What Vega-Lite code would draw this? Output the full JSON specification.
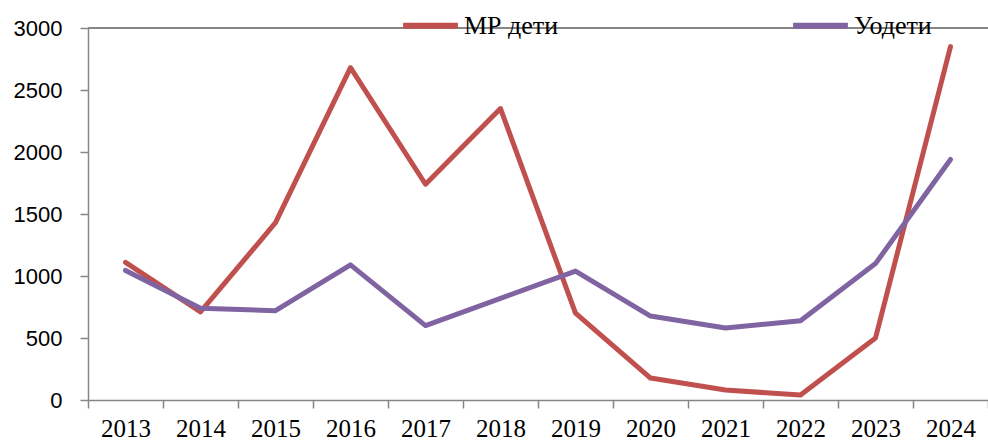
{
  "$schema": "https://vega.github.io/schema/vega-lite/v6.json",
  "width": 900,
  "height": 372,
  "autosize": {"type": "none"},
  "padding": {"left": 88, "top": 28, "right": 0, "bottom": 40},
  "background": "white",
  "config": {"view": {"stroke": null}},
  "data": {
    "values": [
      {"year": "2013", "series": "МР дети", "value": 1110},
      {"year": "2014", "series": "МР дети", "value": 710},
      {"year": "2015", "series": "МР дети", "value": 1430},
      {"year": "2016", "series": "МР дети", "value": 2680},
      {"year": "2017", "series": "МР дети", "value": 1740},
      {"year": "2018", "series": "МР дети", "value": 2350},
      {"year": "2019", "series": "МР дети", "value": 700},
      {"year": "2020", "series": "МР дети", "value": 177},
      {"year": "2021", "series": "МР дети", "value": 80},
      {"year": "2022", "series": "МР дети", "value": 40},
      {"year": "2023", "series": "МР дети", "value": 500},
      {"year": "2024", "series": "МР дети", "value": 2850},
      {"year": "2013", "series": "Уодети", "value": 1045},
      {"year": "2014", "series": "Уодети", "value": 740},
      {"year": "2015", "series": "Уодети", "value": 720},
      {"year": "2016", "series": "Уодети", "value": 1090},
      {"year": "2017", "series": "Уодети", "value": 600},
      {"year": "2018", "series": "Уодети", "value": 820},
      {"year": "2019", "series": "Уодети", "value": 1040},
      {"year": "2020", "series": "Уодети", "value": 677},
      {"year": "2021", "series": "Уодети", "value": 580},
      {"year": "2022", "series": "Уодети", "value": 640},
      {"year": "2023", "series": "Уодети", "value": 1100},
      {"year": "2024", "series": "Уодети", "value": 1940}
    ]
  },
  "layer": [
    {
      "mark": {"type": "rule", "color": "#868686", "strokeWidth": 1},
      "encoding": {"y": {"datum": 3000, "type": "quantitative"}}
    },
    {
      "mark": {"type": "line", "strokeWidth": 5, "strokeJoin": "round", "strokeCap": "round"},
      "encoding": {
        "x": {
          "field": "year", "type": "ordinal", "title": null,
          "scale": {"paddingInner": 0, "paddingOuter": 0},
          "axis": {
            "labelAngle": 0, "labelFont": "Liberation Serif", "labelFontSize": 25,
            "labelColor": "black", "labelPadding": 8, "tickBand": "extent",
            "domainColor": "#868686", "tickColor": "#868686", "tickSize": 8,
            "domainWidth": 1.5, "tickWidth": 1.5
          }
        },
        "y": {
          "field": "value", "type": "quantitative", "title": null,
          "scale": {"domain": [0, 3000], "nice": false},
          "axis": {
            "values": [0, 500, 1000, 1500, 2000, 2500, 3000], "grid": false, "format": "d",
            "labelFont": "Liberation Sans", "labelFontSize": 22, "labelColor": "black",
            "labelPadding": 18, "domainColor": "#868686", "tickColor": "#868686",
            "tickSize": 8, "domainWidth": 1.5, "tickWidth": 1.5
          }
        },
        "color": {
          "field": "series", "type": "nominal",
          "scale": {"domain": ["МР дети", "Уодети"], "range": ["#C0504D", "#8064A2"]},
          "legend": {
            "title": null, "orient": "none", "direction": "horizontal",
            "legendX": 312, "legendY": -33,
            "symbolType": "stroke", "symbolSize": 3000, "symbolStrokeWidth": 6,
            "labelFont": "Liberation Serif", "labelFontSize": 26, "labelColor": "black",
            "labelOffset": 3, "columnPadding": 222, "labelLimit": 300
          }
        }
      }
    }
  ]
}
